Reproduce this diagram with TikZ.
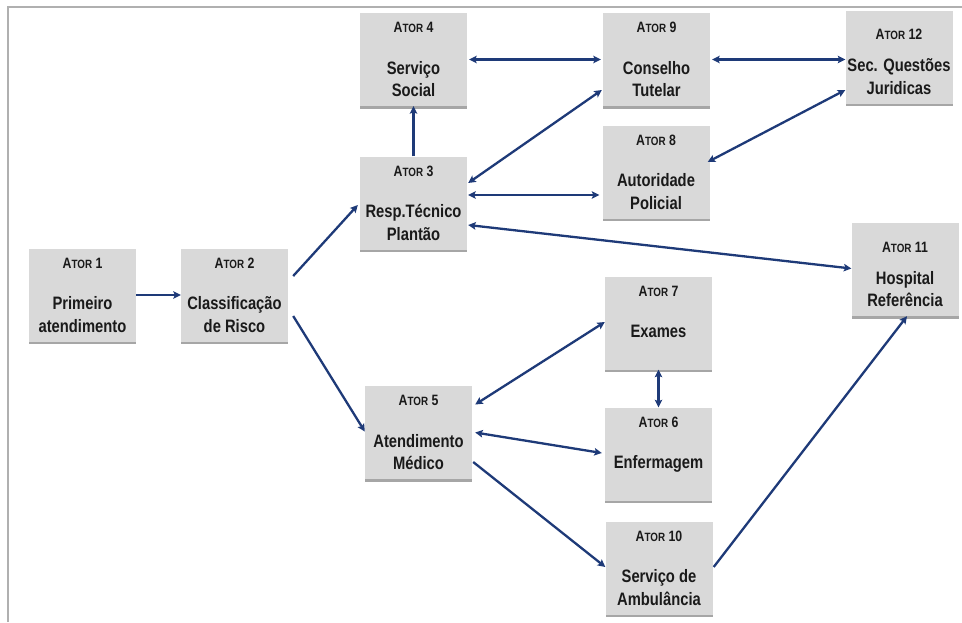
\documentclass[tikz,border=0pt]{standalone}
\usepackage{fontspec}
\setmainfont{Liberation Sans}
\newfontfamily\boxfont[FakeStretch=0.82]{Liberation Sans}
\usetikzlibrary{calc,shadows,arrows.meta}
\definecolor{boxgray}{HTML}{D9D9D9}
\definecolor{txt}{HTML}{1A1A1A}
\definecolor{navy}{HTML}{1E3A78}
\definecolor{framegray}{HTML}{B0B0B0}
\tikzset{
 actor/.style={rectangle, fill=boxgray, minimum width=107pt, minimum height=93pt, inner sep=0pt,
   drop shadow={shadow xshift=0pt, shadow yshift=-2.5pt, fill=black!35, opacity=1}},
 ttl/.style={inner sep=0pt, text=txt, font=\boxfont\bfseries\fontsize{15}{15}\selectfont},
 body/.style={inner sep=0pt, text=txt, font=\boxfont\bfseries\fontsize{18}{20}\selectfont},
 link/.style={draw=navy, line width=2.3pt, -{Stealth[length=7.5pt,width=7.5pt,inset=1.5pt]}},
 dlink/.style={draw=navy, line width=2.3pt, {Stealth[length=7.5pt,width=7.5pt,inset=1.5pt]}-{Stealth[length=7.5pt,width=7.5pt,inset=1.5pt]}},
 framestyle/.style={draw=framegray, line width=1.4pt},
}
\newcommand\atortitle[1]{A{\fontsize{12}{12}\selectfont TOR}~#1}
\newcommand\mkactor[6]{%
 \node[actor] (#1) at #2 {};
 \node[ttl, anchor=base] (#1t) at ($(#1.north)+(0,#4)$) {\atortitle{#3}};
 \node[body, anchor=base] (#1b) at ($(#1.north)+(0,61.5)$) {#5};
 \node[body, anchor=base] (#1c) at ($(#1.north)+(0,84)$) {#6};
}
\begin{document}
\begin{tikzpicture}[x=1pt,y=-1pt]
\useasboundingbox (0,0) rectangle (962,622);
\fill[white] (0,0) rectangle (962,622);
\coordinate (f1) at (8,622);
\coordinate (f2) at (8,7);
\coordinate (f3) at (962,7);
\draw[framestyle] (f1) -- (f2) -- (f3);

\mkactor{a1}{(82.5,295)}{1}{20}{Primeiro}{atendimento}
\mkactor{a2}{(234.5,295)}{2}{20}{Classificação}{de Risco}
\mkactor{a3}{(413.5,203)}{3}{20}{Resp.Técnico}{Plantão}
\mkactor{a4}{(413.5,59.5)}{4}{20}{Serviço}{Social}
\mkactor{a9}{(656.5,59.5)}{9}{20}{Conselho}{Tutelar}
\mkactor{a12}{(899,57)}{12}{29.5}{Sec. Questões}{Juridicas}
\mkactor{a8}{(656,172)}{8}{20}{Autoridade}{Policial}
\mkactor{a11}{(905,269.5)}{11}{29.5}{Hospital}{Referência}
\mkactor{a7}{(658.5,323)}{7}{20}{Exames}{}
\mkactor{a6}{(658.5,454)}{6}{20}{Enfermagem}{}
\mkactor{a5}{(418.5,432.5)}{5}{20}{Atendimento}{Médico}
\mkactor{a10}{(659,568)}{10}{20}{Serviço de}{Ambulância}

% connectors
\draw[link] (a1.east) -- (a2.west);
\draw[link] ($(a2.east)+(5,-19)$) -- ($(a3.west)+(-2,2)$);
\draw[link] ($(a2.east)+(5,21)$) -- ($(a5.west)+(0,-1)$);
\draw[link] (a3.north) -- (a4.south);
\draw[dlink] ($(a4.east)+(2,0)$) -- ($(a9.west)+(-2,0)$);
\coordinate (p9) at ($(a9.east)+(2,0)$);
\draw[dlink] (p9) -- (p9 -| a12.west);
\draw[dlink] ($(a3.east)+(1,-20)$) -- ($(a9.west)+(-1,30.5)$);
\coordinate (p8) at ($(a3.east)+(1,-8)$);
\draw[dlink] (p8) -- ($(p8 -| a8.west)+(-3,0)$);
\draw[dlink] ($(a12.west)+(0,33)$) -- ($(a8.east)+(-2,-10)$);
\draw[dlink] ($(a3.east)+(1,22)$) -- ($(a11.west)+(0,-1)$);
\draw[dlink] ($(a5.east)+(3,-28)$) -- ($(a7.west)+(0,-1)$);
\draw[dlink] (a7.south) -- (a6.north);
\draw[dlink] ($(a5.east)+(3,0)$) -- ($(a6.west)+(-3,-1)$);
\draw[link] ($(a5.east)+(1,29.5)$) -- ($(a10.west)+(0,-1)$);
\draw[link] ($(a10.east)+(1,-1)$) -- ($(a11.south)+(2,0)$);
\end{tikzpicture}
\end{document}
